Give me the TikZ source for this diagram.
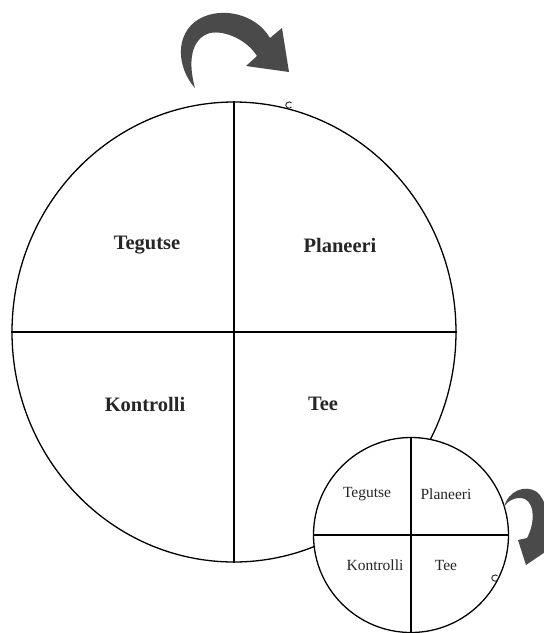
\documentclass[tikz,border=0pt]{standalone}
\usepackage{fontspec}
\setmainfont{Liberation Serif}
\usetikzlibrary{shapes.geometric}
\definecolor{arrowgray}{HTML}{4A4A4A}
\begin{document}
\begin{tikzpicture}[x=1pt,y=-1pt,
  bigring/.style={draw, ellipse, line width=1.3pt, minimum width=444pt, minimum height=460pt, inner sep=0pt},
  smallring/.style={draw, circle, fill=white, line width=1.3pt, minimum size=195pt, inner sep=0pt},
  divider/.style={line width=1.4pt},
  bigtext/.style={font=\fontsize{20.5}{24}\selectfont\bfseries, text=black!85},
  smalltext/.style={font=\fontsize{15.5}{18}\selectfont, text=black!85},
  turnarrow/.style={fill=arrowgray, draw=none},
  tickmark/.style={line width=1pt, draw=black!80}
]
\useasboundingbox (0,0) rectangle (544,633);
\clip (0,0) rectangle (544,633);
% big cycle
\node[bigring] (big) at (234,332) {};
\draw[divider] (big.north) -- (big.south);
\draw[divider] (big.west) -- (big.east);
\node[bigtext] (bt) at (147,245) {Tegutse};
\node[bigtext] (bp) at (340,245) {Planeeri};
\node[bigtext] (bk) at (145,404) {Kontrolli};
\node[bigtext] (be) at (323,404) {Tee};
% small cycle
\node[smallring] (small) at (411,535) {};
\draw[divider] (small.north) -- (small.south);
\draw[divider] (small.west) -- (small.east);
\node[smalltext] (st) at (367,494) {Tegutse};
\node[smalltext] (sp) at (446,494) {Planeeri};
\node[smalltext] (sk) at (375,565) {Kontrolli};
\node[smalltext] (se) at (446,565) {Tee};
% small marks
\coordinate (m1) at (289,105);
\coordinate (m2) at (495,578);
\draw[tickmark] (m1) ++(40:3.2) arc (40:320:3.2);
\draw[tickmark] (m2) ++(40:3.2) arc (40:320:3.2);
% big curved arrow
\fill[turnarrow] (195,88) .. controls (177,68) and (174,34) .. (199,19)
  .. controls (222,6) and (256,14) .. (270,38) -- (282,28) -- (289,72) -- (246,66) -- (257,56)
  .. controls (247,40) and (225,30) .. (210,33)
  .. controls (195,37) and (186,55) .. (195,88) -- cycle;
% small curved arrow
\fill[turnarrow] (504,507) .. controls (508,491) and (525,484) .. (537,492)
  .. controls (546,500) and (549,515) .. (547,534) -- (554,546) -- (526,565) -- (518,540) -- (527,538)
  .. controls (534,525) and (536,505) .. (525,499)
  .. controls (517,496) and (508,500) .. (504,507) -- cycle;
\end{tikzpicture}
\end{document}
